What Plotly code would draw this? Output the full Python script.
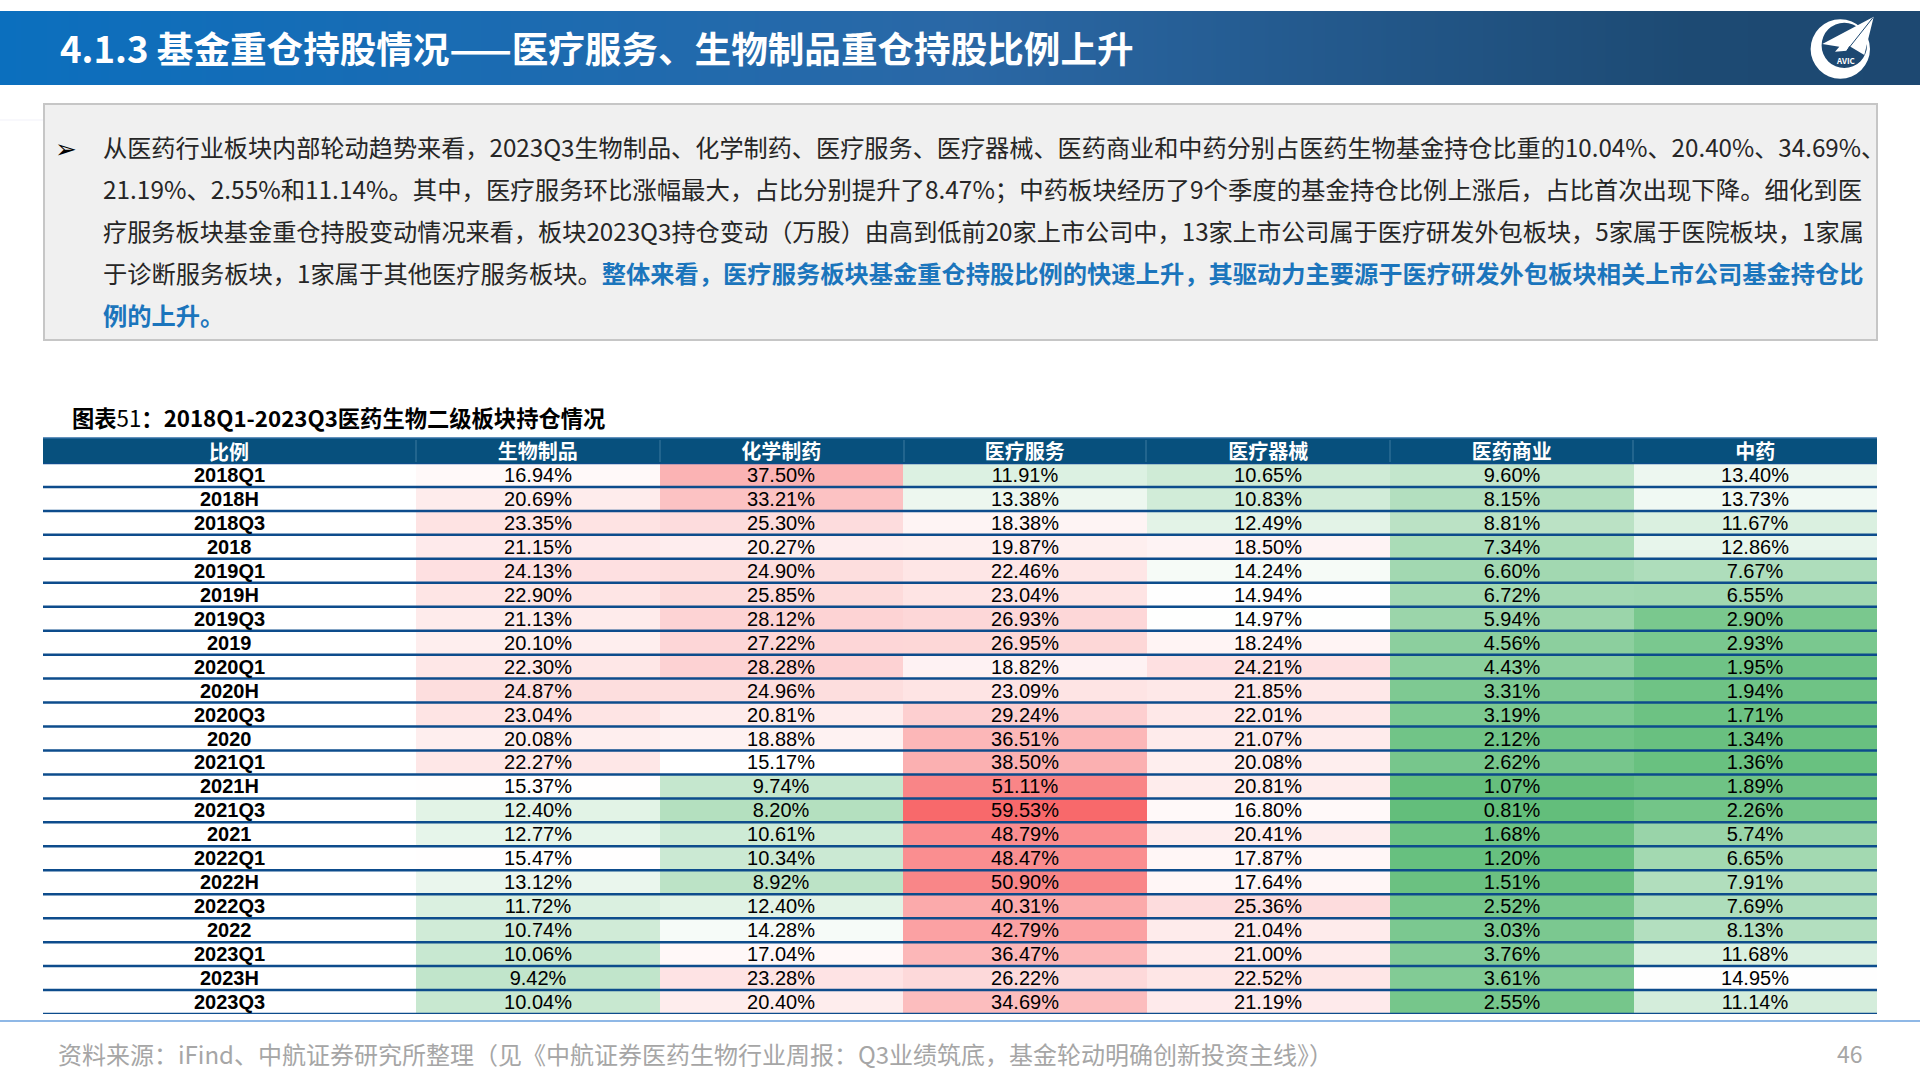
import numpy as np
import plotly.graph_objects as go

W, H = 1920, 1080

# table data, share of fund holdings (%)
periods = ["2018Q1", "2018H", "2018Q3", "2018", "2019Q1", "2019H", "2019Q3", "2019",
           "2020Q1", "2020H", "2020Q3", "2020", "2021Q1", "2021H", "2021Q3", "2021",
           "2022Q1", "2022H", "2022Q3", "2022", "2023Q1", "2023H", "2023Q3"]
sectors = ["生物制品", "化学制药", "医疗服务", "医疗器械", "医药商业", "中药"]
bio = [16.94, 20.69, 23.35, 21.15, 24.13, 22.90, 21.13, 20.10, 22.30, 24.87, 23.04, 20.08,
       22.27, 15.37, 12.40, 12.77, 15.47, 13.12, 11.72, 10.74, 10.06, 9.42, 10.04]
chem = [37.50, 33.21, 25.30, 20.27, 24.90, 25.85, 28.12, 27.22, 28.28, 24.96, 20.81, 18.88,
        15.17, 9.74, 8.20, 10.61, 10.34, 8.92, 12.40, 14.28, 17.04, 23.28, 20.40]
service = [11.91, 13.38, 18.38, 19.87, 22.46, 23.04, 26.93, 26.95, 18.82, 23.09, 29.24, 36.51,
           38.50, 51.11, 59.53, 48.79, 48.47, 50.90, 40.31, 42.79, 36.47, 26.22, 34.69]
device = [10.65, 10.83, 12.49, 18.50, 14.24, 14.94, 14.97, 18.24, 24.21, 21.85, 22.01, 21.07,
          20.08, 20.81, 16.80, 20.41, 17.87, 17.64, 25.36, 21.04, 21.00, 22.52, 21.19]
commerce = [9.60, 8.15, 8.81, 7.34, 6.60, 6.72, 5.94, 4.56, 4.43, 3.31, 3.19, 2.12,
            2.62, 1.07, 0.81, 1.68, 1.20, 1.51, 2.52, 3.03, 3.76, 3.61, 2.55]
tcm = [13.40, 13.73, 11.67, 12.86, 7.67, 6.55, 2.90, 2.93, 1.95, 1.94, 1.71, 1.34,
       1.36, 1.89, 2.26, 5.74, 6.65, 7.91, 7.69, 8.13, 11.68, 14.95, 11.14]

title = "4.1.3 基金重仓持股情况——医疗服务、生物制品重仓持股比例上升"
table_title = "<b>图表</b>51<b>：2018Q1-2023Q3医药生物二级板块持仓情况</b>"
source = "资料来源：iFind、中航证券研究所整理（见《中航证券医药生物行业周报：Q3业绩筑底，基金轮动明确创新投资主线》）"
blue = "#1b75bc"
body_lines = [
    "从医药行业板块内部轮动趋势来看，2023Q3生物制品、化学制药、医疗服务、医疗器械、医药商业和中药分别占医药生物基金持仓比重的10.04%、20.40%、34.69%、",
    "21.19%、2.55%和11.14%。其中，医疗服务环比涨幅最大，占比分别提升了8.47%；中药板块经历了9个季度的基金持仓比例上涨后，占比首次出现下降。细化到医",
    "疗服务板块基金重仓持股变动情况来看，板块2023Q3持仓变动（万股）由高到低前20家上市公司中，13家上市公司属于医疗研发外包板块，5家属于医院板块，1家属",
    f"于诊断服务板块，1家属于其他医疗服务板块。<span style='color:{blue}'><b>整体来看，医疗服务板块基金重仓持股比例的快速上升，其驱动力主要源于医疗研发外包板块相关上市公司基金持仓比</b></span>",
    f"<span style='color:{blue}'><b>例的上升。</b></span>",
]
body_sizes = [24.17, 24.4, 24.18, 24.27, 24.27]

FONT = "Noto Sans CJK SC"
CELL_FONT = "Liberation Sans"


# pixel position -> paper coordinates
def px(x):
    return x / W


def py(y):
    return 1 - y / H


def rect(x0, y0, x1, y1, fill, line=None, width=0):
    return dict(type="rect", xref="paper", yref="paper", x0=px(x0), x1=px(x1), y0=py(y0), y1=py(y1),
                fillcolor=fill, line=dict(color=line, width=width), layer="above")


def text(x, y, s, size, color="black", anchor="left"):
    return dict(xref="paper", yref="paper", x=px(x), y=py(y), text=s, showarrow=False,
                xanchor=anchor, yanchor="middle", font=dict(family=FONT, size=size, color=color))


values = np.array([bio, chem, service, device, commerce, tcm]).T
low, high = values.min(), values.max()
mid = np.percentile(values, 50)
mid_pos = (mid - low) / (high - low)

fig = go.Figure()

# banner gradient
fig.add_trace(go.Heatmap(z=[[0, 0.5, 1]], x=[0, 0.5, 1], y=[0], xaxis="x2", yaxis="y2", zsmooth="best",
                         zmin=0, zmax=1, showscale=False, hoverinfo="skip",
                         colorscale=[[0, "#0b6fbe"], [0.5, "#2a68a6"], [0.88, "#1d4a73"], [1, "#1d4871"]]))

# the table itself, excel style green-white-red scale
fig.add_trace(go.Heatmap(z=values, x=sectors, y=periods, zmin=low, zmax=high, showscale=False,
                         colorscale=[[0, "#63be7b"], [mid_pos, "#ffffff"], [1, "#f8696b"]],
                         texttemplate="%{z:.2f}%", textfont=dict(family=CELL_FONT, size=20, color="black"),
                         hoverinfo="skip"))

shapes = [
    rect(44, 104, 1877, 340, "#f0f0f0", "#c6c6c6", 2),
    dict(rect(43, 438, 1877, 463, "#07507d"), layer="below"),
    dict(type="circle", xref="paper", yref="paper", layer="above", fillcolor="white", line_width=0,
         x0=px(1810.6), x1=px(1870), y0=py(19.3), y1=py(78.7)),
    dict(type="circle", xref="paper", yref="paper", layer="above", fillcolor="#1d4871", line_width=0,
         x0=px(1821.6), x1=px(1867), y0=py(22.7), y1=py(68.1)),
]

# logo plane
plane = [(1873.7, 16.7), (1822.3, 44), (1839.3, 46.7), (1835, 51.7), (1846.7, 50.7), (1849.3, 46), (1864.3, 55)]
path = "M " + " L ".join(f"{px(x)},{py(y)}" for x, y in plane) + " Z"
shapes.append(dict(type="path", xref="paper", yref="paper", path=path, fillcolor="white", line_width=0, layer="above"))
shapes.append(dict(type="line", xref="paper", yref="paper", x0=px(1873), y0=py(17.5), x1=px(1846.7), y1=py(50.7),
                   line=dict(color="#1d4871", width=1), layer="above"))

# header separators
for x in [416, 660, 904, 1146, 1390, 1633]:
    shapes.append(dict(type="line", xref="paper", yref="paper", x0=px(x), x1=px(x), y0=py(440), y1=py(462),
                       line=dict(color="#3f7aa0", width=1), layer="above"))

# row rules
for i in range(-1, len(periods)):
    shapes.append(dict(type="line", xref="paper", yref="y", x0=px(43), x1=px(1877), y0=i + 0.5, y1=i + 0.5,
                       line=dict(color="#0d4c8c", width=2.5), layer="above"))
shapes.append(dict(type="line", xref="paper", yref="paper", x0=px(43), x1=px(1877), y0=py(438), y1=py(438),
                   line=dict(color="#2f6ea5", width=1.5), layer="above"))

# footer rule and the faint mark left of the box
shapes.append(dict(type="line", xref="paper", yref="paper", x0=0, x1=1, y0=py(1021), y1=py(1021),
                   line=dict(color="#8fb8e6", width=2), layer="above"))
shapes.append(dict(type="line", xref="paper", yref="paper", x0=0, x1=px(43), y0=py(120), y1=py(120),
                   line=dict(color="#f6f6fb", width=1.5), layer="below"))

annotations = [
    text(58, 48, f"<b>{title}</b>", 36.6, "white"),
    text(1845.7, 60.5, "<b>AVIC</b>", 8, "white", "center"),
    text(53, 147, "➢", 26),
    text(70, 417, table_title, 22.3),
    text(229, 451.5, "<b>比例</b>", 20, "white", "center"),
    text(56, 1053, source, 24, "#a6a6a6"),
    text(1850, 1053, "46", 23, "#a6a6a6", "center"),
]
for i, line in enumerate(body_lines):
    annotations.append(text(101, 146.5 + i * 42, line, body_sizes[i], "#262626"))

# row labels stay on the table's y scale
for i, p in enumerate(periods):
    annotations.append(dict(xref="paper", yref="y", x=px(229), y=i, text=f"<b>{p}</b>", showarrow=False,
                            xanchor="center", yanchor="middle", font=dict(family=CELL_FONT, size=20, color="black")))

fig.update_layout(
    width=W, height=H, margin=dict(l=0, r=0, t=0, b=0), paper_bgcolor="white", plot_bgcolor="rgba(0,0,0,0)",
    shapes=shapes, annotations=annotations, showlegend=False,
    xaxis=dict(domain=[px(416), px(1877)], side="top", type="category", range=[-0.5, 5.5], ticklen=0, showgrid=False,
               zeroline=False, tickmode="array", tickvals=sectors, ticktext=[f"<b>{s}</b>" for s in sectors],
               tickfont=dict(family=FONT, size=20, color="white"), showline=False, ticklabelstandoff=-1),
    yaxis=dict(domain=[py(1014), py(463)], type="category", range=[22.5, -0.5], showticklabels=False,
               ticklen=0, showgrid=False, zeroline=False),
    xaxis2=dict(domain=[0, 1], range=[0, 1], visible=False, anchor="y2"),
    yaxis2=dict(domain=[py(85), py(11)], visible=False, anchor="x2"),
)

fig.write_html("out.html", config={"displayModeBar": False}, post_script="document.body.style.margin='0';")
